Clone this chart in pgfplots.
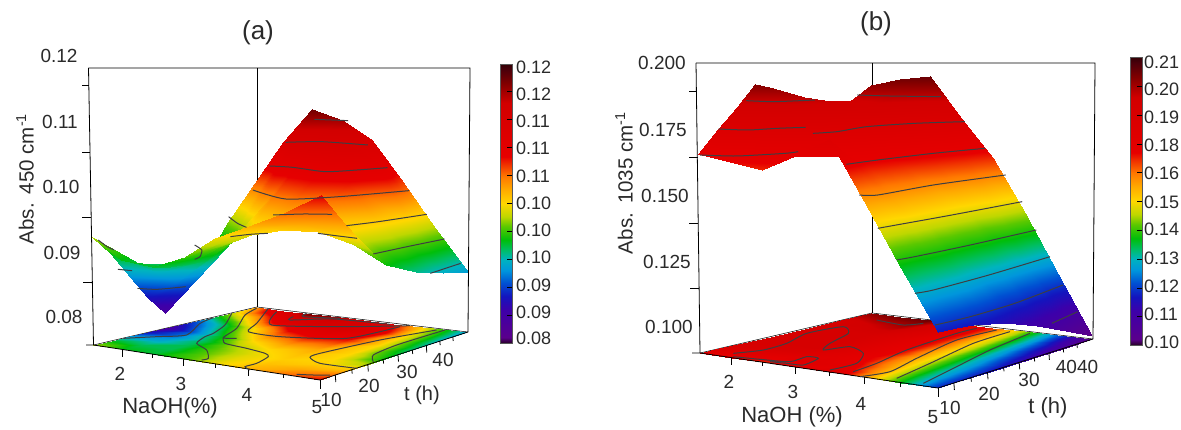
\documentclass[border=0pt]{standalone}
\usepackage{pgfplots}
\usepackage{pgfplotstable}
\usepackage{fontspec}
\setmainfont{Liberation Sans}
\pgfplotsset{compat=1.18}
\pgfplotstableread{
n t a
1.5 55.5 0.1009
2.0 55.5 0.1096
2.5 55.5 0.1155
3.0 55.5 0.1137
3.5 55.5 0.1105
4.0 55.5 0.1036
4.5 55.5 0.0965
5.0 55.5 0.0897
1.5 45.9 0.0959
2.0 45.9 0.1010
2.5 45.9 0.1080
3.0 45.9 0.1105
3.5 45.9 0.1105
4.0 45.9 0.1075
4.5 45.9 0.0980
5.0 45.9 0.0905
1.5 35.8 0.0877
2.0 35.8 0.0925
2.5 35.8 0.0985
3.0 35.8 0.1040
3.5 35.8 0.1055
4.0 35.8 0.1045
4.5 35.8 0.0985
5.0 35.8 0.0917
1.5 25.7 0.0825
2.0 25.7 0.0880
2.5 25.7 0.0935
3.0 25.7 0.0985
3.5 25.7 0.1005
4.0 25.7 0.1005
4.5 25.7 0.0985
5.0 25.7 0.0937
1.5 20.65 0.0855
2.0 20.65 0.0885
2.5 20.65 0.0925
3.0 20.65 0.0965
3.5 20.65 0.0985
4.0 20.65 0.0995
4.5 20.65 0.0985
5.0 20.65 0.0962
1.5 15.6 0.0894
2.0 15.6 0.0905
2.5 15.6 0.0925
3.0 15.6 0.0955
3.5 15.6 0.0977
4.0 15.6 0.0989
4.5 15.6 0.0990
5.0 15.6 0.0990
1.5 10.55 0.0935
2.0 10.55 0.0925
2.5 10.55 0.0925
3.0 10.55 0.0952
3.5 10.55 0.0978
4.0 10.55 0.0995
4.5 10.55 0.1005
5.0 10.55 0.1020
1.5 5.5 0.0966
2.0 5.5 0.0935
2.5 5.5 0.0930
3.0 5.5 0.0948
3.5 5.5 0.0981
4.0 5.5 0.1002
4.5 5.5 0.1025
5.0 5.5 0.1052
}\tableA
\pgfplotstableread{
n t a
1.5 55.5 0.2010
2.0 55.5 0.2037
2.5 55.5 0.2049
3.0 55.5 0.1875
3.5 55.5 0.1709
4.0 55.5 0.1488
4.5 55.5 0.1249
5.0 55.5 0.1012
1.5 45.9 0.1913
2.0 45.9 0.1950
2.5 45.9 0.1980
3.0 45.9 0.1860
3.5 45.9 0.1720
4.0 45.9 0.1510
4.5 45.9 0.1280
5.0 45.9 0.1065
1.5 35.8 0.1948
2.0 35.8 0.1905
2.5 35.8 0.1930
3.0 35.8 0.1820
3.5 35.8 0.1720
4.0 35.8 0.1530
4.5 35.8 0.1310
5.0 35.8 0.1116
1.5 25.7 0.2005
2.0 25.7 0.1970
2.5 25.7 0.1910
3.0 25.7 0.1810
3.5 25.7 0.1720
4.0 25.7 0.1550
4.5 25.7 0.1335
5.0 25.7 0.1159
1.5 20.65 0.2023
2.0 20.65 0.1980
2.5 20.65 0.1900
3.0 20.65 0.1800
3.5 20.65 0.1720
4.0 20.65 0.1560
4.5 20.65 0.1350
5.0 20.65 0.1172
1.5 15.6 0.1933
2.0 15.6 0.1890
2.5 15.6 0.1840
3.0 15.6 0.1790
3.5 15.6 0.1730
4.0 15.6 0.1580
4.5 15.6 0.1365
5.0 15.6 0.1183
1.5 10.55 0.1851
2.0 10.55 0.1810
2.5 10.55 0.1770
3.0 10.55 0.1810
3.5 10.55 0.1770
4.0 10.55 0.1600
4.5 10.55 0.1380
5.0 10.55 0.1188
1.5 5.5 0.1759
2.0 5.5 0.1735
2.5 5.5 0.1711
3.0 5.5 0.1768
3.5 5.5 0.1835
4.0 5.5 0.1620
4.5 5.5 0.1397
5.0 5.5 0.1190
}\tableB
\definecolor{txt}{HTML}{2A2A2A}
\definecolor{cl}{HTML}{3E3E42}
\pgfplotsset{
  colormap={rb}{
    rgb255(0pt)=(40,0,40);
    rgb255(20pt)=(90,0,140);
    rgb255(120pt)=(60,0,170);
    rgb255(167pt)=(20,20,190);
    rgb255(215pt)=(0,80,210);
    rgb255(260pt)=(0,150,220);
    rgb255(300pt)=(0,180,190);
    rgb255(334pt)=(0,190,100);
    rgb255(370pt)=(0,190,10);
    rgb255(418pt)=(90,200,0);
    rgb255(453pt)=(190,215,0);
    rgb255(500pt)=(255,215,0);
    rgb255(550pt)=(255,170,0);
    rgb255(597pt)=(255,120,0);
    rgb255(640pt)=(240,50,0);
    rgb255(668pt)=(230,0,0);
    rgb255(860pt)=(210,0,0);
    rgb255(930pt)=(130,0,0);
    rgb255(980pt)=(75,0,10);
    rgb255(1000pt)=(50,0,5)
  },
  canvas/.style={
    at={(0pt,0pt)},anchor=south west,
    width=1181pt,height=429pt,scale only axis,
    xmin=0,xmax=1181,ymin=0,ymax=429,zmin=0,zmax=1,
    y dir=reverse,view={0}{90},hide axis,clip=false,
    every axis plot/.append style={z buffer=none},
  },
  projA/.style={declare function={
    nu(\n)=(\n-1.5)/3.5; tv(\t)=(\t-5.5)/50.5;
    den(\n,\t)=1-0.1246*nu(\n)+0.1608*tv(\t);
    xfl(\n,\t)=(186.6*nu(\n)+204.8*tv(\t)+93.5)/den(\n,\t);
    yfl(\n,\t)=(-12.35*nu(\n)+11.4*tv(\t)+345)/den(\n,\t);
    wz(\z)=(\z-0.08)/0.0426;
    sxx(\n,\t,\z)=xfl(\n,\t)+0.02*wz(\z)*(xfl(\n,\t)-257);
    syy(\n,\t,\z)=yfl(\n,\t)+wz(\z)*(68-yfl(\n,\t));
  }},
  projB/.style={declare function={
    nu(\n)=(\n-1.5)/3.5; tv(\t)=(\t-5.5)/50.5;
    den(\n,\t)=1-0.1041*nu(\n)+0.1499*tv(\t);
    xfl(\n,\t)=(140.35*nu(\n)+302.7*tv(\t)+700)/den(\n,\t);
    yfl(\n,\t)=(-5.39*nu(\n)+6.92*tv(\t)+353)/den(\n,\t);
    wz(\z)=(\z-0.10)/0.1107;
    sxx(\n,\t,\z)=xfl(\n,\t)+0.015*wz(\z)*(xfl(\n,\t)-872);
    syy(\n,\t,\z)=yfl(\n,\t)+wz(\z)*(63-yfl(\n,\t));
  }},
}
% surface in perspective from table (NaOH, t, Abs)
\newcommand\surface[1]{\addplot3[surf,shader=interp,mesh/rows=8,mesh/cols=8,
   point meta=\thisrow{a}] table[x expr={sxx(\thisrow{n},\thisrow{t},\thisrow{a})},
   y expr={syy(\thisrow{n},\thisrow{t},\thisrow{a})},z expr=0] {#1};}
\newcommand\floormap[2]{\addplot3[surf,shader=interp,mesh/rows=8,mesh/cols=8,
   point meta={#2}] table[x expr={xfl(\thisrow{n},\thisrow{t})},
   y expr={yfl(\thisrow{n},\thisrow{t})},z expr=0] {#1};}
% polyline in canvas coordinates
\newcommand\seg[2][black,line width=0.8pt]{\addplot3[#1,no markers] coordinates {#2};}
% contour read from a magnified crop: offset x, scale x, offset y, scale y
\newcommand\cnt[5]{\addplot3[cl,line width=1pt,no markers,smooth,tension=0.4] table[row sep=\\,
   x expr={#1+\thisrowno{0}/#2},y expr={#3+\thisrowno{1}/#4},z expr=0] {#5};}
\newcommand\la[4][19]{\node[text=txt,font=\fontsize{#1}{#1}\selectfont,inner sep=0pt] at (axis cs:#2,#3,0) {#4};}
\newcommand\lb[3]{\node[text=txt,font=\fontsize{18}{18}\selectfont,inner sep=0pt,anchor=west] at (axis cs:#1,#2,0) {#3};}
\begin{document}
\begin{tikzpicture}
\path (0,0) rectangle (1181pt,429pt);
%================ panel a
\begin{axis}[canvas,projA,point meta min=0.0795,point meta max=0.1175]
\seg{(88.5,68,0) (470,68,0) (468,332,0)}
\seg{(88.5,68,0) (93.5,345,0)}
\seg{(257,68,0) (257,307,0)}
\seg[black,line width=0.5pt]{(93.5,345,0) (257,307,0) (468,332,0)}
\floormap{\tableA}{\thisrow{a}}
\seg{(86,345,0) (93.5,345,0) (320,380,0) (468,332,0)}
\surface{\tableA}
% wall ticks
\seg{(82,85,0) (89,85,0)}\seg{(82,152,0) (90,152,0)}\seg{(82,217,0) (91,217,0)}\seg{(83,282,0) (92,282,0)}
% NaOH ticks
\seg{(122.4,349.5,0) (122.4,356.5,0)}\seg{(152.3,354,0) (152.3,358,0)}\seg{(183.4,358.9,0) (183.4,365.9,0)}
\seg{(215.5,363.8,0) (215.5,367.8,0)}\seg{(248.8,369,0) (248.8,376,0)}\seg{(283.7,374.4,0) (283.7,378.4,0)}
\seg{(320,380,0) (320,389,0)}
% t ticks
\seg{(335.3,375,0) (335.8,382,0)}\seg{(351.8,369.7,0) (352.2,373.7,0)}\seg{(367.8,364.5,0) (368.3,371.5,0)}
\seg{(383.2,359.5,0) (383.6,363.5,0)}\seg{(398,354.7,0) (398.5,361.7,0)}\seg{(412.3,350,0) (412.7,354,0)}
\seg{(426.3,345.5,0) (426.8,352.5,0)}\seg{(439.8,341.2,0) (440.2,345.2,0)}\seg{(452.8,337,0) (453.2,341,0)}
% contours on the surface (crop coordinates)
\cnt{0}{2.8}{30}{3}{880 268\\975 272\\}
\cnt{0}{2.8}{30}{3}{800 337\\900 335\\1030 345\\}
\cnt{0}{2.8}{30}{3}{755 408\\820 412\\910 425\\1000 420\\1085 413\\}
\cnt{0}{2.8}{30}{3}{708 480\\800 507\\950 500\\1145 482\\}
\cnt{0}{2.8}{30}{3}{970 587\\1060 575\\1195 553\\}
\cnt{0}{2.8}{30}{3}{1045 672\\1140 650\\1245 627\\}
\cnt{0}{2.8}{30}{3}{1205 730\\1290 700\\}
\cnt{0}{2.8}{30}{3}{765 555\\850 552\\930 553\\}
\cnt{0}{2.8}{30}{3}{645 620\\700 613\\750 610\\}
\cnt{0}{2.8}{30}{3}{890 610\\940 617\\1000 625\\}
\cnt{0}{2.8}{30}{3}{640 560\\665 580\\690 592\\}
\cnt{0}{2.8}{30}{3}{330 718\\370 722\\}
\cnt{0}{2.8}{30}{3}{385 775\\440 778\\520 770\\}
\cnt{0}{2.8}{30}{3}{275 630\\300 650\\320 660\\}
\cnt{0}{2.8}{30}{3}{545 645\\565 660\\560 680\\545 688\\}
% contours on the floor
\cnt{80}{3}{295}{3}{130 130\\230 125\\320 120\\360 85\\400 68\\}
\cnt{80}{3}{295}{3}{455 55\\435 90\\400 115\\375 125\\350 145\\380 165\\385 190\\365 195\\}
\cnt{80}{3}{295}{3}{530 40\\495 60\\470 100\\430 128\\470 130\\}
\cnt{80}{3}{295}{3}{430 128\\435 145\\500 160\\555 175\\565 185\\530 205\\495 215\\510 225\\}
\cnt{80}{3}{295}{3}{565 40\\530 85\\505 110\\600 125\\800 130\\960 95\\}
\cnt{80}{3}{295}{3}{590 50\\575 90\\800 95\\990 92\\}
\cnt{80}{3}{295}{3}{640 65\\630 75\\760 72\\930 88\\}
\cnt{80}{3}{295}{3}{680 55\\670 65\\780 70\\}
\cnt{80}{3}{295}{3}{1070 105\\900 135\\720 175\\690 187\\720 205\\830 220\\}
\cnt{80}{3}{295}{3}{1095 105\\950 150\\880 180\\880 200\\}
\cnt{80}{3}{295}{3}{650 238\\700 240\\750 240\\}
% colour bar
\addplot3[surf,shader=interp,mesh/rows=2,mesh/cols=2,point meta=\thisrow{m}] table[x=x,y=y,z expr=0,row sep=\\] {
x y m\\ 500 64 0.1175\\ 512 64 0.1175\\ 500 343 0.0795\\ 512 343 0.0795\\};
\seg[gray!70!black,line width=0.8pt]{(500,64,0) (512,64,0) (512,343,0) (500,343,0) (500,64,0)}
\seg{(507,91,0) (512,91,0)}\seg{(507,119,0) (512,119,0)}\seg{(507,147,0) (512,147,0)}\seg{(507,175,0) (512,175,0)}
\seg{(507,203,0) (512,203,0)}\seg{(507,231,0) (512,231,0)}\seg{(507,259,0) (512,259,0)}\seg{(507,287,0) (512,287,0)}
\seg{(507,315,0) (512,315,0)}
\la[26]{258}{33}{(a)}
\la{59}{56}{0.12}\la{60}{122}{0.11}\la{61}{187}{0.10}\la{62}{253}{0.09}\la{64}{317}{0.08}
\la{120}{374}{2}\la{181}{384}{3}\la{247}{395}{4}\la{317}{407}{5}
\la{331}{400}{10}\la{369}{386}{20}\la{407}{372}{30}\la{443}{360}{40}
\la[22]{170}{408}{NaOH(\%)}\la[20]{422}{395}{t (h)}
\node[text=txt,font=\fontsize{20.5}{20.5}\selectfont,rotate=90,inner sep=0pt] at (axis cs:25,179,0) {Abs.\ \,450 cm\textsuperscript{-1}};
\lb{516}{67}{0.12}\lb{516}{94}{0.12}\lb{516}{121}{0.11}\lb{516}{148}{0.11}\lb{516}{176}{0.11}\lb{516}{203}{0.10}
\lb{516}{230}{0.10}\lb{516}{257}{0.10}\lb{516}{285}{0.09}\lb{516}{312}{0.09}\lb{516}{338}{0.08}
\end{axis}
%================ panel b
\begin{axis}[canvas,projB,point meta min=0.10,point meta max=0.21]
\seg{(696,63,0) (1095,63,0) (1093,339,0)}
\seg{(696,63,0) (700,353,0)}
\seg{(872,63,0) (872,313,0)}
\seg[black,line width=0.5pt]{(700,353,0) (872,313,0) (1093,339,0)}
\floormap{\tableB}{min(\thisrow{a},0.19+0.015*(\thisrow{t}>44))}
\seg{(692,353,0) (700,353,0) (938,388,0) (1093,339,0)}
\cnt{690}{3}{300}{3}{130 160\\220 150\\290 130\\350 100\\460 80\\475 100\\420 130\\400 150\\480 140\\520 160\\500 190\\420 210\\}
\cnt{690}{3}{300}{3}{130 170\\210 178\\300 185\\350 170\\385 175\\340 195\\290 190\\240 185\\}
\cnt{690}{3}{300}{3}{560 60\\640 75\\700 70\\}
\cnt{690}{3}{300}{3}{490 215\\560 190\\650 150\\800 100\\860 85\\}
\cnt{690}{3}{300}{3}{510 230\\600 215\\680 175\\800 120\\920 90\\}
\cnt{690}{3}{300}{3}{620 235\\720 190\\850 130\\960 95\\}
\cnt{690}{3}{300}{3}{700 250\\790 205\\900 150\\1020 100\\}
\surface{\tableB}
\seg{(689,91,0) (697,91,0)}\seg{(689,157,0) (698,157,0)}\seg{(689,223,0) (698,223,0)}\seg{(690,288,0) (699,288,0)}
\seg{(730.9,357.6,0) (730.9,364.6,0)}\seg{(762.8,362.3,0) (762.8,366.3,0)}\seg{(795.8,367.1,0) (795.8,374.1,0)}
\seg{(829.4,372,0) (829.4,376,0)}\seg{(864.4,377.2,0) (864.4,384.2,0)}\seg{(900.6,382.5,0) (900.6,386.5,0)}
\seg{(938,388,0) (938,397,0)}
\seg{(953.9,383,0) (954.4,390,0)}\seg{(971,377.6,0) (971.4,381.6,0)}\seg{(987.5,372.4,0) (988,379.4,0)}
\seg{(1003.6,367.3,0) (1004,371.3,0)}\seg{(1019.2,362.4,0) (1019.7,369.4,0)}\seg{(1034.3,357.5,0) (1034.7,361.5,0)}
\seg{(1048.9,352.9,0) (1049.4,359.9,0)}\seg{(1063.2,348.4,0) (1063.6,352.4,0)}\seg{(1076.9,344,0) (1077.3,348,0)}
\cnt{600}{2.7}{30}{3}{395 212\\470 215\\580 210\\}
\cnt{600}{2.7}{30}{3}{320 297\\400 300\\480 295\\555 292\\}
\cnt{600}{2.7}{30}{3}{270 375\\370 378\\500 370\\535 365\\}
\cnt{600}{2.7}{30}{3}{575 310\\640 305\\720 290\\850 280\\985 275\\}
\cnt{600}{2.7}{30}{3}{695 195\\780 198\\920 200\\}
\cnt{600}{2.7}{30}{3}{665 403\\750 390\\900 370\\1040 355\\}
\cnt{600}{2.7}{30}{3}{700 495\\750 495\\900 465\\1095 435\\}
\cnt{600}{2.7}{30}{3}{750 595\\800 585\\950 555\\1140 515\\}
\cnt{600}{2.7}{30}{3}{800 690\\850 680\\1000 645\\1178 600\\}
\cnt{600}{2.7}{30}{3}{850 790\\900 780\\1050 735\\1215 680\\}
\cnt{600}{2.7}{30}{3}{905 885\\1000 860\\1120 820\\1250 765\\}
\cnt{600}{2.7}{30}{3}{1220 880\\1290 845\\}
\addplot3[surf,shader=interp,mesh/rows=2,mesh/cols=2,point meta=\thisrow{m}] table[x=x,y=y,z expr=0,row sep=\\] {
x y m\\ 1130 57 0.21\\ 1142 57 0.21\\ 1130 345 0.10\\ 1142 345 0.10\\};
\seg[gray!70!black,line width=0.8pt]{(1130,57,0) (1142,57,0) (1142,345,0) (1130,345,0) (1130,57,0)}
\seg{(1137,86,0) (1142,86,0)}\seg{(1137,115,0) (1142,115,0)}\seg{(1137,144,0) (1142,144,0)}\seg{(1137,172,0) (1142,172,0)}
\seg{(1137,201,0) (1142,201,0)}\seg{(1137,230,0) (1142,230,0)}\seg{(1137,259,0) (1142,259,0)}\seg{(1137,288,0) (1142,288,0)}
\seg{(1137,316,0) (1142,316,0)}
\la[26]{876}{24}{(b)}
\la{662}{63}{0.200}\la{663}{130}{0.175}\la{665}{196}{0.150}\la{667}{262}{0.125}\la{669}{327}{0.100}
\la{729}{382}{2}\la{793}{392}{3}\la{861}{404}{4}\la{933}{417}{5}
\la{950}{408}{10}\la{989}{394}{20}\la{1029}{380}{30}\la{1077}{367}{4040}
\la[22]{792}{417}{NaOH (\%)}\la[22]{1048}{408}{t (h)}
\node[text=txt,font=\fontsize{20.5}{20.5}\selectfont,rotate=90,inner sep=0pt] at (axis cs:624,183,0) {Abs.\ \,1035 cm\textsuperscript{-1}};
\lb{1144}{62}{0.21}\lb{1144}{89}{0.20}\lb{1144}{117}{0.19}\lb{1144}{145}{0.18}\lb{1144}{173}{0.16}\lb{1144}{202}{0.15}
\lb{1144}{229}{0.14}\lb{1144}{258}{0.13}\lb{1144}{286}{0.12}\lb{1144}{314}{0.11}\lb{1144}{342}{0.10}
\end{axis}
\end{tikzpicture}
\end{document}
